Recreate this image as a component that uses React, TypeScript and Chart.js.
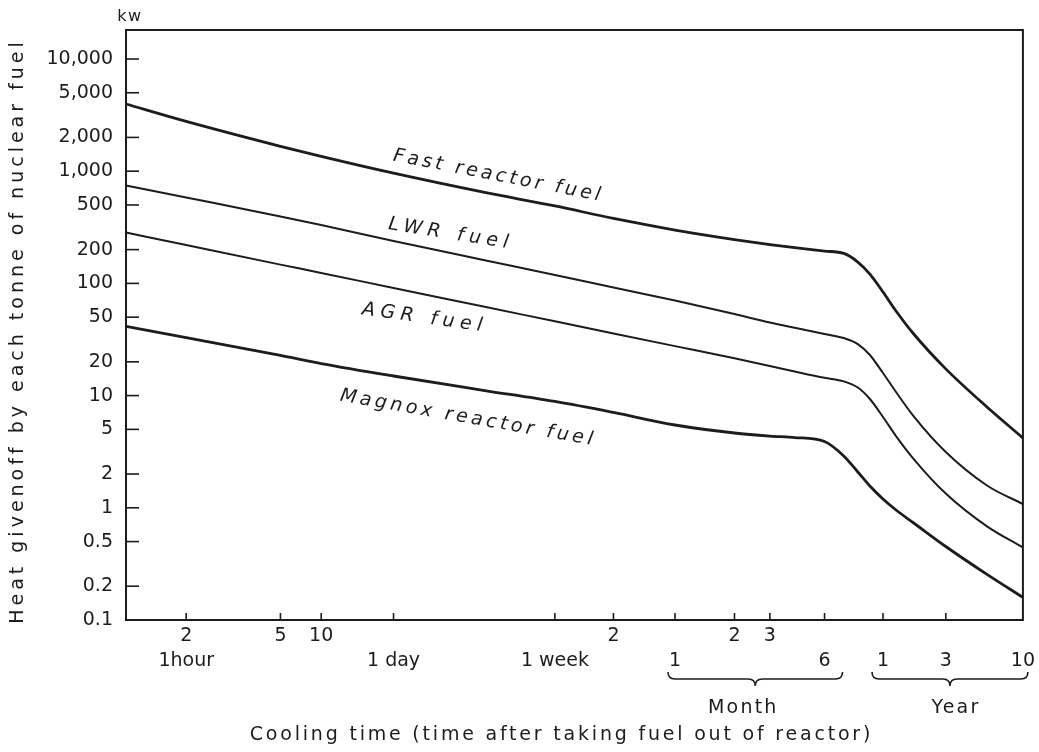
import React, { useEffect, useRef } from 'react';
import { Chart, registerables, LinearScale } from 'chart.js';

// ---------------- data ----------------
// Cooling time in hours
const COOLING_HOURS = [1, 2, 5, 10, 24, 72, 168, 336, 730, 1460, 2190, 3000, 4380, 5500, 6500, 7500, 8760, 11000, 15000, 26280, 50000, 87600];
// Heat given off, kW per tonne
const FAST_KW = [3970, 2780, 1667, 1355, 960, 647, 490, 379, 299, 246, 222, 208, 194, 185, 155, 121, 83.8, 56.8, 35.4, 17.3, 7.91, 4.19];
const LWR_KW = [746, 583, 395, 331, 239, 161, 119, 91.9, 70.5, 53.3, 44.8, 40.2, 35.4, 32.6, 28.8, 23.0, 15.9, 10.77, 6.53, 3.14, 1.58, 1.08];
const AGR_KW = [284, 219.5, 147, 124, 91, 61.9, 45.9, 35.8, 27.6, 21.5, 18.36, 16.4, 14.4, 13.4, 11.8, 9.33, 6.45, 4.36, 2.72, 1.34, 0.683, 0.443];
const MAGNOX_KW = [41.3, 32.9, 22.8, 19.3, 14.95, 11.1, 8.86, 7.07, 5.47, 4.64, 4.36, 4.23, 3.9, 2.9, 2.085, 1.564, 1.198, 0.956, 0.732, 0.452, 0.255, 0.159];

const SERIES_NAMES = ['Fast reactor fuel', 'LWR fuel', 'AGR fuel', 'Magnox reactor fuel'];

const Y_TICKS = [0.1, 0.2, 0.5, 1, 2, 5, 10, 20, 50, 100, 200, 500, 1000, 2000, 5000, 10000];
const X_TICK_HOURS = [2, 5, 10, 24, 168, 336, 730, 1460, 2190, 4380, 8760, 26280, 87600];
const X_TICK_ROW1 = ['2', '5', '10', '', '', '2', '', '2', '3', '', '', '', ''];
const X_TICK_ROW2 = ['1hour', '', '', '1 day', '1 week', '', '1', '', '', '6', '1', '3', '10'];

const Y_TITLE = 'Heat givenoff by each tonne of nuclear fuel';
const Y_UNIT = 'kw';
const X_TITLE = 'Cooling time (time after taking fuel out of reactor)';
const MONTH_LABEL = 'Month';
const YEAR_LABEL = 'Year';

// ---------------- hand-drawn time axis (hours -> fraction of axis) ----------------
const AXIS_ANCHORS: [number, number][] = [
  [1, 0], [2, 0.0671], [5, 0.1722], [10, 0.2176], [24, 0.2983], [168, 0.4782], [336, 0.5435],
  [730, 0.6121], [1460, 0.6784], [2190, 0.7179], [4380, 0.7788], [8760, 0.844], [26280, 0.914], [87600, 1],
];

function segFor(h: number): number {
  const a = AXIS_ANCHORS;
  for (let i = 0; i < a.length - 1; i++) if (h <= a[i + 1][0]) return i;
  return a.length - 2;
}
function warp(h: number): number {
  const i = segFor(h);
  const [h0, f0] = AXIS_ANCHORS[i];
  const [h1, f1] = AXIS_ANCHORS[i + 1];
  return f0 + (Math.log(h / h0) / Math.log(h1 / h0)) * (f1 - f0);
}
function unwarp(f: number): number {
  const a = AXIS_ANCHORS;
  let i = a.length - 2;
  for (let k = 0; k < a.length - 1; k++) if (f <= a[k + 1][1]) { i = k; break; }
  const [h0, f0] = a[i];
  const [h1, f1] = a[i + 1];
  return h0 * Math.pow(h1 / h0, (f - f0) / (f1 - f0));
}

class CoolingTimeScale extends LinearScale {
  static id = 'coolingTime';
  determineDataLimits() {
    (this as any).min = AXIS_ANCHORS[0][0];
    (this as any).max = AXIS_ANCHORS[AXIS_ANCHORS.length - 1][0];
  }
  buildTicks() {
    return X_TICK_HOURS.map((value) => ({ value }));
  }
  getPixelForValue(value: number) {
    return (this as any).getPixelForDecimal(warp(value));
  }
  getValueForPixel(pixel: number) {
    return unwarp((this as any).getDecimalForPixel(pixel));
  }
}

Chart.register(...registerables, CoolingTimeScale as any);

const INK = '#1c1c1c';
const FONT = '"DejaVu Sans", sans-serif';

const LABEL_ANCHORS = [
  { hours: 85, kw: 906, angle: 11, spacing: 3.4 },
  { hours: 48, kw: 275, angle: 9, spacing: 5.4 },
  { hours: 35, kw: 49, angle: 8, spacing: 5.5 },
  { hours: 59, kw: 6.3, angle: 10, spacing: 3.6 },
];

function toPoints(values: number[]) {
  return COOLING_HOURS.map((h, i) => ({ x: h, y: values[i] }));
}

const decorPlugin = {
  id: 'decor',
  afterDraw(chart: any) {
    const { ctx, chartArea: ca, scales } = chart;
    const xs = scales.x;
    const ys = scales.y;
    ctx.save();
    ctx.strokeStyle = INK;
    ctx.fillStyle = INK;
    ctx.lineCap = 'butt';

    // frame
    ctx.lineWidth = 2;
    ctx.strokeRect(ca.left, ca.top, ca.right - ca.left, ca.bottom - ca.top);

    // inner tick marks
    ctx.lineWidth = 1.6;
    ys.ticks.forEach((t: any) => {
      const y = ys.getPixelForValue(t.value);
      if (y > ca.bottom - 2) return;
      ctx.beginPath();
      ctx.moveTo(ca.left, y);
      ctx.lineTo(ca.left + 13, y);
      ctx.stroke();
    });
    xs.ticks.forEach((t: any) => {
      const x = xs.getPixelForValue(t.value);
      if (x > ca.right - 3) return;
      ctx.beginPath();
      ctx.moveTo(x, ca.bottom);
      ctx.lineTo(x, ca.bottom - 7);
      ctx.stroke();
    });

    // braces under month / year groups
    const brace = (x1: number, x2: number, yTop: number, r: number) => {
      const mid = (x1 + x2) / 2;
      ctx.beginPath();
      ctx.moveTo(x1, yTop);
      ctx.quadraticCurveTo(x1, yTop + r, x1 + r, yTop + r);
      ctx.lineTo(mid - r, yTop + r);
      ctx.quadraticCurveTo(mid, yTop + r, mid, yTop + 2 * r);
      ctx.quadraticCurveTo(mid, yTop + r, mid + r, yTop + r);
      ctx.lineTo(x2 - r, yTop + r);
      ctx.quadraticCurveTo(x2, yTop + r, x2, yTop);
      ctx.stroke();
      return mid;
    };
    ctx.lineWidth = 1.6;
    const mMid = brace(xs.getPixelForValue(730) - 7, xs.getPixelForValue(4380) + 18, 672, 7);
    const yMid = brace(xs.getPixelForValue(8760) - 11, xs.getPixelForValue(87600) + 5, 672, 7);

    ctx.font = `19px ${FONT}`;
    ctx.textAlign = 'center';
    ctx.textBaseline = 'middle';
    (ctx as any).letterSpacing = '2.2px';
    ctx.fillText(MONTH_LABEL, mMid - 12, 708);
    ctx.fillText(YEAR_LABEL, yMid + 6, 708);

    // x title
    (ctx as any).letterSpacing = '2.8px';
    ctx.fillText(X_TITLE, (ca.left + ca.right) / 2 - 13, 735);

    // y unit
    (ctx as any).letterSpacing = '1.5px';
    ctx.font = `16px ${FONT}`;
    ctx.fillText(Y_UNIT, ca.left + 4, 17);

    // y title
    ctx.save();
    ctx.font = `19px ${FONT}`;
    (ctx as any).letterSpacing = '4px';
    ctx.translate(18, 331);
    ctx.rotate(-Math.PI / 2);
    ctx.fillText(Y_TITLE, 0, 0);
    ctx.restore();

    // curve labels
    SERIES_NAMES.forEach((name, i) => {
      const a = LABEL_ANCHORS[i];
      const x = xs.getPixelForValue(a.hours);
      const y = ys.getPixelForValue(a.kw);
      ctx.save();
      ctx.font = `italic 19px ${FONT}`;
      (ctx as any).letterSpacing = `${a.spacing}px`;
      ctx.translate(x, y);
      ctx.rotate((a.angle * Math.PI) / 180);
      ctx.fillText(name, 0, 0);
      ctx.restore();
    });

    ctx.restore();
  },
};

export default function App() {
  const ref = useRef<HTMLCanvasElement | null>(null);

  useEffect(() => {
    if (!ref.current) return;
    const series = [FAST_KW, LWR_KW, AGR_KW, MAGNOX_KW];
    const widths = [2.8, 2, 2, 2.8];
    const chart = new Chart(ref.current, {
      type: 'line',
      data: {
        datasets: series.map((vals, i) => ({
          label: SERIES_NAMES[i],
          data: toPoints(vals),
          borderColor: INK,
          borderWidth: widths[i],
          pointRadius: 0,
          fill: false,
          cubicInterpolationMode: 'monotone' as const,
          clip: false as any,
        })),
      },
      options: {
        responsive: false,
        animation: false,
        events: [],
        layout: { padding: { left: 0, top: 30, right: 9, bottom: 0 } },
        plugins: { legend: { display: false }, tooltip: { enabled: false }, title: { display: false } },
        scales: {
          x: {
            type: 'coolingTime' as any,
            grid: { display: false, drawTicks: false },
            border: { display: false },
            ticks: {
              autoSkip: false,
              maxRotation: 0,
              minRotation: 0,
              padding: 4,
              color: INK,
              font: { family: FONT, size: 19, lineHeight: 25 / 19 },
              callback: (_v: any, i: number) => [X_TICK_ROW1[i], X_TICK_ROW2[i]],
            },
            afterFit: (s: any) => {
              s.height = 132;
            },
          } as any,
          y: {
            type: 'logarithmic',
            min: 0.1,
            max: 18130,
            grid: { display: false, drawTicks: false },
            border: { display: false },
            afterBuildTicks: (s: any) => {
              s.ticks = Y_TICKS.map((value) => ({ value }));
            },
            ticks: {
              autoSkip: false,
              padding: 13,
              color: INK,
              font: { family: FONT, size: 19 },
              callback: (v: any) => (v >= 1000 ? Number(v).toLocaleString('en-US') : String(v)),
            },
            afterFit: (s: any) => {
              s.width = 126;
            },
          } as any,
        },
      },
      plugins: [decorPlugin],
    });
    return () => chart.destroy();
  }, []);

  return (
    <div style={{ position: 'fixed', left: 0, top: 0, width: 1039, height: 752, background: '#fff' }}>
      <canvas ref={ref} width={1039} height={752} style={{ display: 'block' }} />
    </div>
  );
}
